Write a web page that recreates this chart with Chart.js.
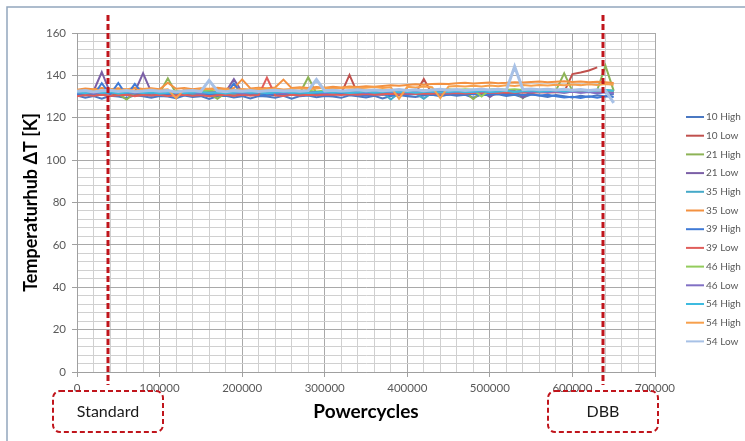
<!DOCTYPE html>
<html>
<head>
<meta charset="utf-8">
<script src="https://cdn.jsdelivr.net/npm/chart.js@4.4.1/dist/chart.umd.min.js"></script>
<style>
  html, body { margin: 0; padding: 0; background: #ffffff; }
  #wrap { position: relative; width: 745px; height: 441px; }
</style>
</head>
<body>
<div id="wrap">
  <canvas id="cycleChart" width="745" height="441"></canvas>
</div>
<script>
// powercycles, one sample every 10000 cycles
var cycles = [0, 10000, 20000, 30000, 40000, 50000, 60000, 70000, 80000, 90000,
  100000, 110000, 120000, 130000, 140000, 150000, 160000, 170000, 180000, 190000,
  200000, 210000, 220000, 230000, 240000, 250000, 260000, 270000, 280000, 290000,
  300000, 310000, 320000, 330000, 340000, 350000, 360000, 370000, 380000, 390000,
  400000, 410000, 420000, 430000, 440000, 450000, 460000, 470000, 480000, 490000,
  500000, 510000, 520000, 530000, 540000, 550000, 560000, 570000, 580000, 590000,
  600000, 610000, 620000, 630000, 640000, 650000];

var seriesNames = ["10 High", "10 Low", "21 High", "21 Low", "35 High", "35 Low",
  "39 High", "39 Low", "46 High", "46 Low", "54 High", "54 High", "54 Low"];

var seriesColors = ["#4a78c2", "#c0504d", "#8db356", "#7b5fa6", "#45a9c8", "#f39140",
  "#3f7ad6", "#e05e5b", "#93cc5c", "#8170c4", "#3ebbe0", "#f7a04c", "#a7c1e6"];

var dT10High = [130.5, 129.5, 130.2, 129.0, 130.4, 130.0, 129.3, 130.6, 130.1, 129.4,
  130.3, 130.0, 129.2, 130.5, 129.8, 130.2, 128.9, 130.1, 130.4, 129.6,
  130.2, 129.1, 130.3, 130.0, 129.5, 130.4, 129.0, 130.2, 130.5, 129.7,
  130.3, 130.0, 129.4, 130.6, 130.2, 129.6, 130.4, 129.1, 130.3, 130.7,
  130.1, 129.8, 130.5, 130.9, 130.2, 131.0, 130.4, 130.8, 129.5, 130.9,
  130.6, 131.1, 130.3, 130.8, 129.6, 131.0, 130.5, 129.8, 130.7, 130.2,
  129.6, 130.4, 129.8, 130.6, 130.0, 131.2];

var dT10Low = [131.0, 130.6, 131.2, 130.8, 130.5, 131.1, 130.7, 130.9, 131.2, 130.6,
  130.8, 131.0, 130.5, 131.1, 130.7, 130.9, 130.4, 131.0, 130.8, 130.5,
  131.1, 130.6, 130.9, 131.0, 130.6, 130.8, 131.1, 130.7, 130.9, 131.2,
  130.8, 131.0, 131.4, 140.2, 131.3, 131.0, 131.2, 130.9, 131.4, 131.1,
  131.3, 131.5, 138.3, 131.2, 131.6, 131.4, 131.7, 131.5, 131.8, 131.6,
  131.9, 131.7, 131.5, 131.8, 132.0, 131.7, 132.1, 131.9, 132.0, 132.2,
  140.6, 141.4, 142.3, 143.8, null, null];

var dT21High = [131.8, 131.2, 132.0, 131.5, 131.9, 131.3, 128.6, 131.7, 131.4, 132.0,
  131.6, 138.6, 131.5, 131.9, 131.2, 131.8, 131.5, 129.0, 131.7, 131.3,
  131.9, 131.6, 131.2, 131.8, 131.5, 131.9, 131.4, 131.7, 139.1, 131.6,
  131.3, 131.9, 131.5, 131.8, 132.1, 131.6, 132.0, 131.7, 132.2, 131.9,
  132.3, 132.0, 132.4, 132.1, 132.5, 132.2, 132.6, 132.3, 128.8, 132.5,
  132.8, 132.4, 132.7, 132.5, 129.2, 132.6, 132.9, 132.5, 132.8, 141.0,
  132.6, 132.9, 132.4, 133.0, 144.6, 132.7];

var dT21Low = [132.3, 131.8, 132.5, 141.6, 132.0, 132.4, 131.7, 132.2, 141.0, 132.1,
  131.8, 132.4, 132.0, 131.6, 132.3, 131.9, 132.2, 131.7, 132.1, 138.2,
  132.0, 131.8, 132.3, 131.9, 132.2, 131.6, 132.1, 131.8, 132.4, 132.0,
  131.7, 132.3, 132.0, 131.8, 132.2, 131.9, 132.4, 132.1, 131.8, 132.3,
  132.0, 132.5, 132.2, 131.9, 132.4, 132.1, 132.6, 132.3, 132.0, 132.5,
  129.8, 132.4, 132.1, 132.6, 129.5, 132.3, 132.0, 132.5, 132.2, 131.8,
  132.4, 131.9, 132.3, 131.7, 132.2, 131.9];

var dT35High = [131.5, 131.9, 131.2, 131.7, 131.4, 131.8, 131.3, 131.6, 131.9, 131.4,
  131.7, 131.2, 131.8, 131.5, 131.1, 131.6, 131.9, 131.4, 131.7, 131.3,
  131.8, 131.5, 131.2, 131.7, 131.4, 131.9, 131.5, 131.2, 131.8, 131.6,
  131.3, 131.9, 131.5, 131.7, 131.4, 131.8, 131.5, 131.9, 128.6, 131.7,
  132.0, 131.6, 128.9, 131.8, 132.1, 131.7, 132.2, 131.9, 132.3, 132.0,
  132.4, 132.1, 132.5, 132.2, 132.6, 132.3, 132.7, 132.4, 132.8, 132.5,
  132.9, 132.6, 133.0, 132.7, 133.1, 132.8];

var dT35Low = [133.2, 133.8, 133.4, 134.0, 133.5, 133.9, 133.3, 134.1, 133.6, 133.9,
  133.4, 136.5, 133.7, 134.0, 133.5, 133.9, 133.6, 134.1, 133.7, 134.0,
  138.1, 133.8, 134.2, 133.9, 134.3, 138.0, 134.0, 134.4, 134.1, 134.5,
  134.2, 134.6, 134.3, 134.7, 134.5, 134.9, 134.6, 135.0, 135.3, 135.1,
  135.5, 135.8, 135.6, 135.9, 136.1, 135.9, 136.3, 136.5, 136.2, 136.4,
  136.6, 136.3, 136.5, 136.8, 136.6, 136.9, 137.1, 136.8, 137.0, 137.2,
  136.9, 137.1, 136.8, 137.0, 136.7, 136.4];

var dT39High = [130.8, 131.2, 130.5, 136.3, 130.9, 136.4, 130.6, 136.0, 131.0, 130.4,
  130.9, 131.2, 130.6, 131.0, 130.3, 130.8, 131.1, 130.5, 130.9, 136.2,
  130.7, 131.0, 130.4, 130.8, 131.1, 130.6, 130.9, 130.3, 130.8, 131.0,
  130.5, 130.9, 131.2, 130.7, 131.0, 130.4, 130.8, 131.1, 130.6, 131.0,
  130.7, 131.2, 130.8, 131.1, 130.5, 130.9, 131.3, 130.8, 131.2, 130.6,
  131.0, 131.4, 130.9, 131.2, 130.7, 131.1, 130.5, 130.9, 130.2, 129.6,
  129.9, 129.3, 130.1, 129.5, 130.2, 129.8];

var dT39Low = [130.2, 130.7, 130.4, 130.9, 130.3, 130.6, 130.8, 130.2, 130.7, 130.5,
  130.9, 130.3, 130.6, 130.8, 130.4, 130.7, 130.2, 130.6, 130.9, 130.4,
  130.8, 130.5, 130.7, 139.0, 130.6, 130.3, 130.8, 130.5, 130.9, 130.6,
  130.8, 131.0, 130.7, 131.1, 130.9, 131.2, 130.8, 131.1, 131.3, 131.0,
  131.4, 131.2, 131.5, 131.3, 131.6, 131.4, 131.7, 131.5, 131.8, 131.6,
  131.9, 131.7, 132.0, 131.8, 132.1, 131.9, 132.2, 132.0, 132.3, 132.1,
  132.4, 132.2, 132.5, 132.3, 132.6, 132.4];

var dT46High = [132.6, 132.2, 132.8, 132.4, 132.9, 132.3, 132.7, 132.5, 132.1, 132.6,
  132.9, 132.4, 132.7, 132.2, 132.8, 132.5, 132.9, 132.3, 132.6, 132.2,
  132.7, 132.4, 132.9, 132.5, 132.1, 132.6, 132.8, 132.3, 132.7, 132.4,
  132.9, 132.6, 132.2, 132.7, 132.5, 132.9, 132.6, 133.0, 132.7, 133.1,
  132.8, 133.2, 132.9, 133.3, 133.0, 133.4, 133.1, 133.5, 133.2, 130.0,
  133.3, 133.6, 133.2, 133.5, 133.1, 133.4, 133.0, 133.3, 132.9, 133.2,
  132.8, 133.1, 132.7, 133.0, 132.6, 132.9];

var dT46Low = [131.7, 132.1, 131.5, 131.9, 132.2, 131.6, 132.0, 131.4, 131.8, 132.1,
  131.5, 131.9, 132.2, 131.6, 132.0, 131.3, 131.8, 132.1, 131.6, 131.9,
  131.4, 131.8, 132.2, 131.7, 132.0, 131.5, 131.9, 132.3, 131.8, 132.1,
  131.6, 132.0, 132.4, 131.9, 132.2, 131.7, 132.1, 132.5, 132.0, 132.3,
  131.8, 132.2, 132.6, 132.1, 132.4, 131.9, 132.3, 132.7, 132.2, 132.5,
  132.0, 132.4, 132.8, 132.3, 132.6, 132.1, 132.5, 132.0, 132.4, 131.9,
  132.3, 131.8, 132.2, 131.6, 132.0, 131.5];

var dT54HighA = [132.0, 131.6, 132.3, 131.8, 132.1, 131.5, 131.9, 132.2, 131.7, 132.0,
  131.4, 131.8, 132.1, 131.6, 131.9, 132.2, 131.7, 132.0, 131.5, 131.9,
  132.2, 131.8, 132.1, 131.6, 131.9, 132.3, 131.8, 132.1, 131.7, 132.0,
  132.3, 131.9, 132.2, 131.7, 132.0, 132.4, 131.9, 132.2, 132.5, 132.0,
  132.3, 131.8, 132.1, 132.4, 131.9, 132.2, 132.5, 132.0, 132.3, 132.6,
  132.1, 132.4, 132.7, 132.2, 132.5, 132.8, 132.3, 132.6, 132.9, 132.4,
  132.7, 133.0, 132.5, 132.8, 133.1, 132.6];

var dT54HighB = [133.0, 132.6, 133.3, 132.8, 133.4, 133.0, 133.5, 132.9, 133.3, 133.6,
  133.1, 133.4, 129.2, 133.5, 133.0, 133.4, 133.7, 133.2, 133.5, 133.1,
  133.6, 133.3, 133.7, 133.4, 133.8, 133.3, 133.6, 133.9, 133.5, 133.8,
  134.1, 133.7, 134.0, 134.3, 133.9, 134.2, 134.5, 134.1, 134.4, 129.0,
  134.6, 134.3, 134.7, 134.4, 129.3, 134.8, 135.0, 134.7, 135.1, 134.8,
  135.2, 134.9, 135.3, 135.0, 135.4, 135.1, 135.5, 135.2, 135.6, 135.3,
  135.7, 135.4, 135.8, 135.5, 135.9, 135.6];

var dT54Low = [132.5, 132.9, 132.2, 132.7, 133.0, 132.4, 132.8, 132.3, 132.6, 133.0,
  132.5, 132.8, 132.2, 132.6, 132.9, 132.4, 137.6, 132.7, 132.3, 132.8,
  132.5, 132.9, 132.4, 132.7, 133.0, 132.6, 132.9, 132.5, 132.8, 138.0,
  132.7, 133.0, 132.6, 132.9, 133.2, 132.8, 133.1, 132.7, 133.0, 133.3,
  132.9, 133.2, 132.8, 133.1, 133.4, 133.0, 133.3, 132.9, 133.2, 133.5,
  133.1, 133.4, 133.0, 144.2, 133.3, 133.6, 133.2, 133.5, 133.1, 133.4,
  133.0, 133.3, 132.9, 133.2, 132.8, 127.0];

var seriesValues = [dT10High, dT10Low, dT21High, dT21Low, dT35High, dT35Low,
  dT39High, dT39Low, dT46High, dT46Low, dT54HighA, dT54HighB, dT54Low];

// marked test points (powercycles)
var markers = [
  { label: "Standard", cycles: 37500 },
  { label: "DBB", cycles: 637000 }
];

var xTickStep = 20000, xLabelStep = 100000;
var yTickStep = 4, yLabelStep = 20;

var datasets = seriesNames.map(function (name, i) {
  return {
    label: name,
    data: cycles.map(function (c, j) { return { x: c, y: seriesValues[i][j] }; }),
    borderColor: seriesColors[i],
    backgroundColor: seriesColors[i],
    borderWidth: i === seriesNames.length - 1 ? 3 : 2,
    order: seriesNames.length - i
  };
});

function gridColor(ctx, step) {
  if (!ctx.tick) return '#d0d0d0';
  return Math.abs(ctx.tick.value % step) < 1e-6 ? '#a9a9a9' : '#d0d0d0';
}
function tickMarkColor(ctx, step) {
  if (!ctx.tick) return 'rgba(0,0,0,0)';
  return Math.abs(ctx.tick.value % step) < 1e-6 ? '#a0a0a0' : 'rgba(0,0,0,0)';
}

// frame, dashed marker lines, boxes and the legend
var decorPlugin = {
  id: 'decor',
  beforeDraw: function (chart) {
    var ctx = chart.ctx;
    ctx.save();
    ctx.strokeStyle = '#93a7bd';
    ctx.lineWidth = 1.5;
    ctx.beginPath();
    ctx.moveTo(7, 441);
    ctx.lineTo(7, 7);
    ctx.lineTo(745, 7);
    ctx.stroke();
    ctx.restore();
  },
  afterDraw: function (chart) {
    var ctx = chart.ctx;
    var xs = chart.scales.x;
    ctx.save();
    markers.forEach(function (m) {
      var px = Math.round(xs.getPixelForValue(m.cycles));
      ctx.strokeStyle = '#c0151c';
      ctx.lineWidth = 3;
      ctx.setLineDash([6, 3]);
      ctx.beginPath();
      ctx.moveTo(px, 15);
      ctx.lineTo(px, 385);
      ctx.stroke();

      ctx.lineWidth = 2;
      ctx.setLineDash([5, 3]);
      ctx.beginPath();
      ctx.roundRect(px - 55, 391, 110, 41, 7);
      ctx.stroke();
      ctx.setLineDash([]);

      ctx.fillStyle = '#1a1a1a';
      ctx.font = '16px Lato, "Open Sans", sans-serif';
      ctx.textAlign = 'center';
      ctx.textBaseline = 'middle';
      ctx.fillText(m.label, px, 412);
    });

    chart.data.datasets.forEach(function (ds, i) {
      var y = 117 + i * 18.7;
      ctx.strokeStyle = ds.borderColor;
      ctx.lineWidth = 2;
      ctx.beginPath();
      ctx.moveTo(686, y);
      ctx.lineTo(704, y);
      ctx.stroke();
      ctx.fillStyle = '#595959';
      ctx.font = '10px Lato, "Open Sans", sans-serif';
      ctx.textAlign = 'left';
      ctx.textBaseline = 'middle';
      ctx.fillText(ds.label, 706, y);
    });
    ctx.restore();
  }
};

var chart = new Chart("cycleChart", {
  type: "line",
  data: { datasets: datasets },
  plugins: [decorPlugin],
  options: {
    responsive: false,
    animation: false,
    devicePixelRatio: 1,
    layout: { padding: { top: 33, right: 90, bottom: 15, left: 0 } },
    elements: {
      point: { radius: 0 },
      line: { tension: 0 }
    },
    plugins: {
      legend: { display: false },
      tooltip: { enabled: false }
    },
    scales: {
      x: {
        type: 'linear',
        min: 0,
        max: 700000,
        afterFit: function (scale) { scale.height = 54; },
        ticks: {
          stepSize: xTickStep,
          autoSkip: false,
          maxRotation: 0,
          padding: 4,
          color: '#595959',
          font: { family: 'Lato, "Open Sans", sans-serif', size: 11.5 },
          callback: function (v) { return v % xLabelStep === 0 ? String(v) : ''; }
        },
        grid: {
          color: function (ctx) { return gridColor(ctx, xLabelStep); },
          tickColor: function (ctx) { return tickMarkColor(ctx, xLabelStep); },
          tickLength: 5
        },
        border: { color: '#a0a0a0' },
        title: {
          display: true,
          text: 'Powercycles',
          color: '#000000',
          font: { family: 'Lato, "Open Sans", sans-serif', size: 19, weight: 'bold' },
          padding: { top: 0, bottom: 3 }
        }
      },
      y: {
        min: 0,
        max: 160,
        afterFit: function (scale) { scale.width = 77; },
        ticks: {
          stepSize: yTickStep,
          autoSkip: false,
          padding: 6,
          color: '#595959',
          font: { family: 'Lato, "Open Sans", sans-serif', size: 11.5 },
          callback: function (v) { return v % yLabelStep === 0 ? String(v) : ''; }
        },
        grid: {
          color: function (ctx) { return gridColor(ctx, yLabelStep); },
          tickColor: function (ctx) { return tickMarkColor(ctx, yLabelStep); },
          tickLength: 5
        },
        border: { color: '#a0a0a0' },
        title: {
          display: true,
          text: 'Temperaturhub \u0394T [K]',
          color: '#000000',
          font: { family: 'Lato, "Open Sans", sans-serif', size: 18, weight: 'bold' },
          padding: { top: 20, bottom: 0 }
        }
      }
    }
  }
});
</script>
</body>
</html>
